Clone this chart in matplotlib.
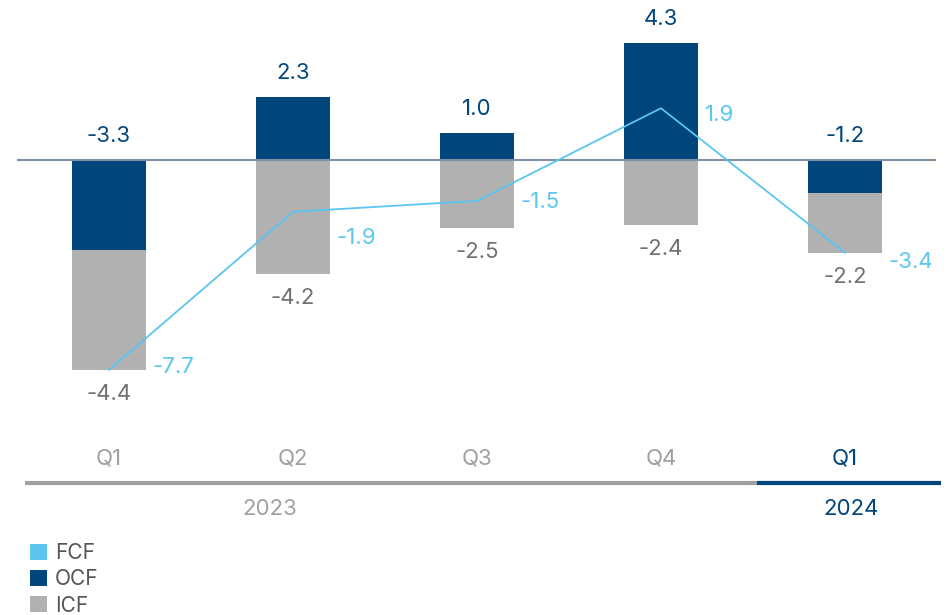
import matplotlib
matplotlib.use("Agg")
import matplotlib.pyplot as plt
from matplotlib.patches import Patch
import numpy as np

quarters = ["Q1", "Q2", "Q3", "Q4", "Q1"]
years = ["2023", "2024"]
year_span = [4, 1]
ocf = [-3.3, 2.3, 1.0, 4.3, -1.2]
icf = [-4.4, -4.2, -2.5, -2.4, -2.2]
fcf = [-7.7, -1.9, -1.5, 1.9, -3.4]

NAVY = "#00457C"
LIGHT = "#5BC5F2"
GREY_BAR = "#B1B1B1"
GREY_TXT = "#707070"
GREY_AXIS = "#A0A0A0"
ZERO = "#8391A7"

plt.rcParams["font.family"] = ["Inter", "DejaVu Sans"]
FS = 16

W, H = 952, 615
fig = plt.figure(figsize=(W / 100, H / 100), dpi=100)
ax = fig.add_axes([0, 0, 1, 1])
ax.set_axis_off()

# pixel mapping: x center of first bar at 109 px, spacing 184 px; zero at 160 px, 27.25 px/unit
px0, dx = 109, 184
py0, dy = 160, 27.25
ax.set_xlim(-px0 / dx, (W - px0) / dx)
ax.set_ylim(-(H - py0) / dy, py0 / dy)

x = np.arange(len(quarters))
bw = 74 / dx

icf_bottom = [min(o, 0) for o in ocf]
ax.bar(x, ocf, width=bw, color=NAVY, zorder=2)
ax.bar(x, icf, bottom=icf_bottom, width=bw, color=GREY_BAR, zorder=2)

ax.plot([(18 - px0) / dx, (935 - px0) / dx], [0, 0], color=ZERO, lw=1.5, zorder=3)

ax.plot(x, fcf, color=LIGHT, lw=1.3, zorder=4)

pt = 72 / 100  # points per pixel

for xi, o in zip(x, ocf):
    top = max(o, 0)
    ax.annotate(f"{o:.1f}", (xi, top), xytext=(0, 14 * pt), textcoords="offset points",
                ha="center", va="bottom", fontsize=FS, color=NAVY)

for xi, o, i in zip(x, ocf, icf):
    bot = min(o, 0) + i
    ax.annotate(f"{i:.1f}", (xi, bot), xytext=(0, -14 * pt), textcoords="offset points",
                ha="center", va="top", fontsize=FS, color=GREY_TXT)

fcf_dy = [-3, 26, 1, 7, 9]
for xi, f, d in zip(x, fcf, fcf_dy):
    ax.annotate(f"{f:.1f}", (xi + bw / 2, f), xytext=(7 * pt, -d * pt), textcoords="offset points",
                ha="left", va="center", fontsize=FS, color=LIGHT)

qy = -(458 - py0) / dy
for k, (xi, q) in enumerate(zip(x, quarters)):
    col = NAVY if k >= year_span[0] else GREY_AXIS
    ax.text(xi, qy, q, ha="center", va="center", fontsize=FS, color=col)

ly = -(483 - py0) / dy
ax.plot([(25 - px0) / dx, (757 - px0) / dx], [ly, ly], color=GREY_AXIS, lw=3, solid_capstyle="butt")
ax.plot([(757 - px0) / dx, (941 - px0) / dx], [ly, ly], color=NAVY, lw=3, solid_capstyle="butt")

yy = -(509 - py0) / dy
ax.text((270 - px0) / dx, yy, years[0], ha="center", va="center", fontsize=FS, color=GREY_AXIS)
ax.text((851 - px0) / dx, yy, years[1], ha="center", va="center", fontsize=FS, color=NAVY)

handles = [Patch(facecolor=LIGHT, edgecolor="none"),
           Patch(facecolor=NAVY, edgecolor="none"),
           Patch(facecolor=GREY_BAR, edgecolor="none")]
leg = fig.legend(handles, ["FCF", "OCF", "ICF"], loc="upper left",
                 bbox_to_anchor=(30 / W, 1 - 543 / H), frameon=False, fontsize=FS - 1,
                 handlelength=0.8, handleheight=0.8, handletextpad=0.4,
                 labelspacing=0.3, borderpad=0, borderaxespad=0)
for t in leg.get_texts():
    t.set_color("#555555")

fig.savefig("out.png", dpi=100)
